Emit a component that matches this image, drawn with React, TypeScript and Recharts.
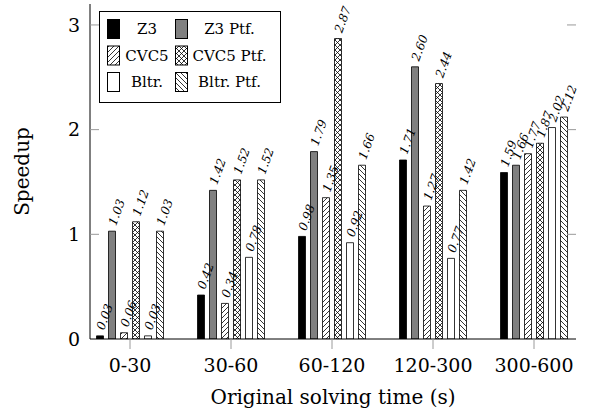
import { BarChart, Bar, XAxis, YAxis, Legend, LabelList, Label } from 'recharts';

const categories = ['0-30', '30-60', '60-120', '120-300', '300-600'];
const z3 = [0.03, 0.42, 0.98, 1.71, 1.59];
const z3Ptf = [1.03, 1.42, 1.79, 2.6, 1.66];
const cvc5 = [0.06, 0.34, 1.35, 1.27, 1.77];
const cvc5Ptf = [1.12, 1.52, 2.87, 2.44, 1.87];
const bltr = [0.03, 0.78, 0.92, 0.77, 2.02];
const bltrPtf = [1.03, 1.52, 1.66, 1.42, 2.12];
const yTicks = [0, 1, 2, 3];

const W = 591;
const H = 414;
const MARGIN = { top: 4, right: 15, bottom: 0, left: 0 };
const PLOT_RIGHT = W - MARGIN.right;
const FONT = '"DejaVu Serif", "Liberation Serif", serif';
const TICK_GRAY = '#9a9a9a';

const SERIES = [
  { key: 'z3', name: 'Z3', fill: '#000000' },
  { key: 'z3Ptf', name: 'Z3 Ptf.', fill: '#808080' },
  { key: 'cvc5', name: 'CVC5', fill: 'url(#hatchNE)' },
  { key: 'cvc5Ptf', name: 'CVC5 Ptf.', fill: 'url(#crossHatch)' },
  { key: 'bltr', name: 'Bltr.', fill: '#ffffff' },
  { key: 'bltrPtf', name: 'Bltr. Ptf.', fill: 'url(#hatchNW)' },
];

const data = categories.map((range, i) => ({
  range,
  z3: z3[i],
  z3Ptf: z3Ptf[i],
  cvc5: cvc5[i],
  cvc5Ptf: cvc5Ptf[i],
  bltr: bltr[i],
  bltrPtf: bltrPtf[i],
}));

function Patterns({ suffix = '' }: { suffix?: string }) {
  return (
    <defs>
      <pattern id={'hatchNE' + suffix} patternUnits="userSpaceOnUse" width={5} height={5}>
        <rect width={5} height={5} fill="#fff" />
        <path d="M-1,1 l2,-2 M0,5 l5,-5 M4,6 l2,-2" stroke="#000" strokeWidth={0.8} />
      </pattern>
      <pattern id={'hatchNW' + suffix} patternUnits="userSpaceOnUse" width={5} height={5}>
        <rect width={5} height={5} fill="#fff" />
        <path d="M-1,4 l2,2 M0,0 l5,5 M4,-1 l2,2" stroke="#000" strokeWidth={0.8} />
      </pattern>
      <pattern id={'crossHatch' + suffix} patternUnits="userSpaceOnUse" width={5} height={5}>
        <rect width={5} height={5} fill="#fff" />
        <path
          d="M-1,1 l2,-2 M0,5 l5,-5 M4,6 l2,-2 M-1,4 l2,2 M0,0 l5,5 M4,-1 l2,2"
          stroke="#000"
          strokeWidth={0.8}
        />
      </pattern>
    </defs>
  );
}

function BarValue(props: any) {
  const { x, y, width, value } = props;
  if (value == null) return null;
  const cx = Number(x) + Number(width) / 2 + 4;
  const cy = Number(y) - 5;
  return (
    <text
      transform={`translate(${cx},${cy}) rotate(-70)`}
      fontFamily={FONT}
      fontStyle="italic"
      fontSize={12}
      fill="#000"
    >
      {Number(value).toFixed(2)}
    </text>
  );
}

function YTick(props: any) {
  const { x, y, payload } = props;
  const axisX = x + 10;
  return (
    <g>
      <text x={x} y={y} dy="0.36em" textAnchor="end" fontFamily={FONT} fontSize={19} fill="#000">
        {payload.value}
      </text>
      {payload.value !== 0 && (
        <>
          <line x1={axisX} x2={axisX + 9} y1={y} y2={y} stroke={TICK_GRAY} />
          <line x1={PLOT_RIGHT - 9} x2={PLOT_RIGHT} y1={y} y2={y} stroke={TICK_GRAY} />
        </>
      )}
    </g>
  );
}

function LegendBox() {
  const rows = [0, 1, 2];
  return (
    <svg width={182} height={92} style={{ display: 'block' }}>
      <Patterns suffix="L" />
      <rect x={0.5} y={0.5} width={181} height={91} fill="#fff" stroke="#000" />
      {rows.map((r) =>
        [0, 1].map((c) => {
          const s = SERIES[r * 2 + c];
          const cy = 18 + r * 26.5;
          const sx = c === 0 ? 8 : 76;
          const tx = c === 0 ? 48 : 130.5;
          const fill = s.fill.startsWith('url') ? s.fill.replace(')', 'L)') : s.fill;
          return (
            <g key={s.key}>
              <rect x={sx + 0.5} y={cy - 9.5} width={12} height={19} fill={fill} stroke="#000" />
              <text
                x={tx}
                y={cy}
                dy="0.36em"
                textAnchor="middle"
                fontFamily={FONT}
                fontSize={15}
                fill="#000"
              >
                {s.name}
              </text>
            </g>
          );
        }),
      )}
    </svg>
  );
}

export default function App() {
  return (
    <div style={{ position: 'absolute', left: 0, top: 0, background: '#fff' }}>
      <BarChart width={W} height={H} data={data} margin={MARGIN} barSize={7} barGap={5}>
        <Patterns />
        <XAxis
          dataKey="range"
          padding={{ left: -10.5, right: -8.5 }}
          height={75}
          tickSize={10}
          tickMargin={10}
          tickLine={{ stroke: TICK_GRAY }}
          axisLine={{ stroke: '#000' }}
          tick={{ fontFamily: FONT, fontSize: 19, fill: '#000' }}
        >
          <Label
            value="Original solving time (s)"
            position="insideBottom"
            offset={10}
            style={{ fontFamily: FONT, fontSize: 20, fill: '#000' }}
          />
        </XAxis>
        <XAxis
          xAxisId="top"
          orientation="top"
          dataKey="range"
          padding={{ left: -10.5, right: -8.5 }}
          height={0}
          tickSize={10}
          tickLine={{ stroke: TICK_GRAY }}
          axisLine={{ stroke: '#000' }}
          tick={() => <g />}
        />
        <YAxis
          width={90}
          domain={[0, 3.2]}
          ticks={yTicks}
          allowDataOverflow
          tickSize={0}
          tickMargin={10}
          tickLine={false}
          axisLine={{ stroke: '#000' }}
          tick={<YTick />}
        >
          <Label
            value="Speedup"
            angle={-90}
            position="insideLeft"
            offset={22}
            style={{ fontFamily: FONT, fontSize: 20, fill: '#000', textAnchor: 'middle' }}
          />
        </YAxis>
        <YAxis
          yAxisId="right"
          orientation="right"
          width={0}
          domain={[0, 3.2]}
          tick={false}
          tickLine={false}
          axisLine={{ stroke: '#000' }}
        />
        <Legend
          layout="horizontal"
          verticalAlign="middle"
          align="center"
          wrapperStyle={{ left: 99, top: 11, width: 182, height: 92 }}
          content={() => <LegendBox />}
        />
        {SERIES.map((s) => (
          <Bar
            key={s.key}
            dataKey={s.key}
            name={s.name}
            fill={s.fill}
            stroke="#000"
            strokeWidth={0.8}
            isAnimationActive={false}
          >
            <LabelList dataKey={s.key} content={<BarValue />} />
          </Bar>
        ))}
      </BarChart>
    </div>
  );
}
